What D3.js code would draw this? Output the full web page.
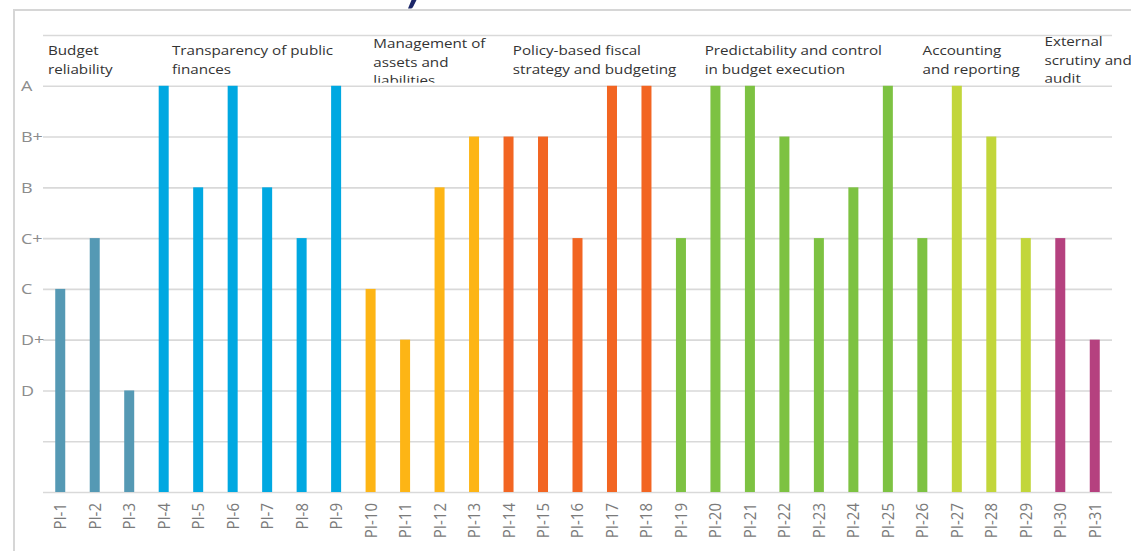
<!DOCTYPE html>
<html>
<head>
<meta charset="utf-8">
<script src="https://cdn.jsdelivr.net/npm/d3@7/dist/d3.min.js"></script>
<style>
  html, body { margin: 0; padding: 0; background: #fff; }
  svg { display: block; }
</style>
</head>
<body>
<svg id="chart" width="1131" height="551"></svg>
<script>
// ---- data ----
const categories = ["PI-1","PI-2","PI-3","PI-4","PI-5","PI-6","PI-7","PI-8","PI-9","PI-10",
  "PI-11","PI-12","PI-13","PI-14","PI-15","PI-16","PI-17","PI-18","PI-19","PI-20",
  "PI-21","PI-22","PI-23","PI-24","PI-25","PI-26","PI-27","PI-28","PI-29","PI-30","PI-31"];
const scores = ["C","C+","D","A","B","A","B","C+","A","C",
  "D+","B","B+","B+","B+","C+","A","A","C+","A",
  "A","B+","C+","B","A","C+","A","B+","C+","C+","D+"];
const gradeLabels = ["D","D+","C","C+","B","B+","A"];   // numeric 2..8
const groupNames = [
  ["Budget","reliability"],
  ["Transparency of public","finances"],
  ["Management of","assets and","liabilities"],
  ["Policy-based fiscal","strategy and budgeting"],
  ["Predictability and control","in budget execution"],
  ["Accounting","and reporting"],
  ["External","scrutiny and","audit"]
];
const groupFirst = ["PI-1","PI-4","PI-10","PI-14","PI-19","PI-27","PI-30"];
const groupColors = ["#5599b4","#00a8e1","#fdb515","#f26522","#7dc242","#c2d63b","#b5417f"];

// ---- layout ----
const W = 1131, H = 551;
const plot = {left: 43, right: 1112, top: 35, bottom: 492};
const labelOffsets = [5, 25.5, 20, 21.5, 41, -17, 1.5]; // px from first band start
const labelFirstBaseline = [55, 55, 48, 55, 55, 55, 46];
const stretch = 1.2; // horizontal text stretch seen in the reference

const svg = d3.select("#chart");

// frame
svg.append("path")
  .attr("d", `M14,${H+2} L14,10 L${W+2},10`)
  .attr("fill", "none").attr("stroke", "#d6d6d6").attr("stroke-width", 2);

// cut-off title fragment (descender of a glyph above the frame)
svg.append("path")
  .attr("d", "M411.5,0 L416.5,0 L413,7 Q412.3,8.5 410.5,8.5 L408,8.5 Z")
  .attr("fill", "#1b2668");

const gradeValue = g => gradeLabels.indexOf(g) + 2;

const x = d3.scaleBand().domain(categories)
  .range([plot.left, plot.right]).paddingInner(0.71).paddingOuter(0.355);
const y = d3.scaleLinear().domain([0, 9]).range([plot.bottom, plot.top]);

// gridlines
const yAxis = d3.axisLeft(y).tickValues(d3.range(0, 10))
  .tickSize(-(plot.right - plot.left)).tickFormat("");
const gGrid = svg.append("g").attr("transform", `translate(${plot.left},0)`).call(yAxis);
gGrid.select(".domain").remove();
gGrid.selectAll(".tick line").attr("stroke", "#d9d9d9").attr("stroke-width", 1.6);

// y labels
svg.append("g").selectAll("text").data(gradeLabels).join("text")
  .attr("transform", (d, i) => `translate(21,${y(i + 2) + 5.5}) scale(${stretch},1)`)
  .attr("font-family", "Open Sans").attr("font-size", 15)
  .attr("fill", "#8c8c8c").text(d => d);

// colour per category
const groupIndex = c => {
  const i = categories.indexOf(c);
  let g = 0;
  groupFirst.forEach((f, k) => { if (i >= categories.indexOf(f)) g = k; });
  return g;
};

// bars
svg.append("g").selectAll("rect").data(categories).join("rect")
  .attr("x", d => x(d))
  .attr("width", x.bandwidth())
  .attr("y", (d, i) => y(gradeValue(scores[i])))
  .attr("height", (d, i) => y(0) - y(gradeValue(scores[i])))
  .attr("fill", d => groupColors[groupIndex(d)]);

// x labels
const xAxis = d3.axisBottom(x).tickSize(0).tickPadding(0);
const gX = svg.append("g").attr("transform", `translate(0,${plot.bottom})`).call(xAxis);
gX.select(".domain").remove();
gX.selectAll(".tick text")
  .attr("transform", `translate(0,11) scale(${stretch * 0.95},1) rotate(-90)`)
  .attr("x", 0).attr("y", 0).attr("dy", "0.35em")
  .attr("text-anchor", "end")
  .attr("font-family", "Open Sans").attr("font-size", 15)
  .attr("fill", "#7a7a7a");

// group labels (clipped at top gridline A)
svg.append("clipPath").attr("id", "lblclip")
  .append("rect").attr("x", 0).attr("y", 0).attr("width", W).attr("height", y(8) - 3);
const gL = svg.append("g").attr("clip-path", "url(#lblclip)");
groupNames.forEach((lines, k) => {
  const bandStart = x(groupFirst[k]) - x.step() * x.paddingInner() / 2;
  const t = gL.append("text")
    .attr("transform", `translate(${bandStart + labelOffsets[k]},${labelFirstBaseline[k]}) scale(1.17,1)`)
    .attr("font-family", "Open Sans").attr("font-size", 13)
    .attr("fill", "#333");
  lines.forEach((ln, j) => {
    t.append("tspan").attr("x", 0)
      .attr("dy", j === 0 ? 0 : 18.7).text(ln);
  });
});
</script>
</body>
</html>
